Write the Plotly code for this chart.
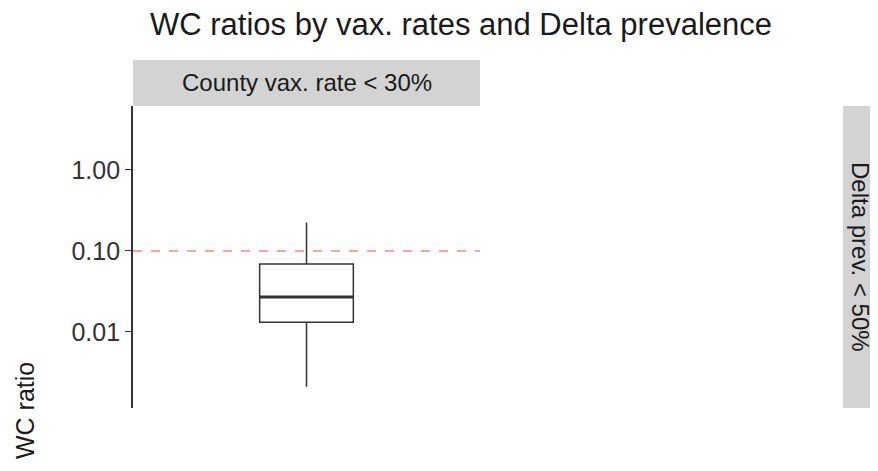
import plotly.graph_objects as go

# box summary (log scale)
group = ["County vax. rate < 30%"]
lower_whisker = [0.0021]
q1 = [0.0132]
median = [0.027]
q3 = [0.069]
upper_whisker = [0.224]
threshold = 0.10

tick_vals = [0.01, 0.1, 1.0]
tick_text = ["0.01", "0.10", "1.00"]

col_strip = "County vax. rate < 30%"
row_strip = "Delta prev. < 50%"

FONT = "Liberation Sans"
box_w = 0.27

# page has an 8px body margin, so the paper is shifted by 8px
L, T, B = 125, 98, 71
W = 878 - L
H = 471 - T - B
panel_end = 347 / W

fig = go.Figure()

fig.add_trace(go.Box(
    x=group,
    lowerfence=lower_whisker,
    q1=q1,
    median=median,
    q3=q3,
    upperfence=upper_whisker,
    width=box_w,
    whiskerwidth=0,
    fillcolor="white",
    line=dict(color="#333333", width=1.5),
    boxpoints=False,
    showlegend=False,
    hoverinfo="skip",
))

# ggplot draws the median thicker than the box edges
fig.add_shape(type="line", xref="x", yref="y",
              x0=-box_w / 2, x1=box_w / 2, y0=median[0], y1=median[0],
              line=dict(color="#333333", width=3))

# reference line
fig.add_shape(type="line", xref="paper", yref="y",
              x0=0, x1=panel_end, y0=threshold, y1=threshold,
              line=dict(color="#F28B82", width=1.4, dash="dash"))

# facet strips
fig.add_shape(type="rect", xref="paper", yref="paper",
              x0=0, x1=panel_end, y0=1, y1=1 + 46 / H,
              fillcolor="#D3D3D3", line=dict(width=0), layer="below")
fig.add_annotation(text=col_strip, xref="paper", yref="paper",
                   x=panel_end / 2, y=1 + 23 / H, showarrow=False,
                   xanchor="center", yanchor="middle",
                   font=dict(family=FONT, size=24, color="#1a1a1a"))
fig.add_shape(type="rect", xref="paper", yref="paper",
              x0=(835 - L) / W, x1=1.0, y0=0, y1=1,
              fillcolor="#D3D3D3", line=dict(width=0), layer="below")
fig.add_annotation(text=row_strip, xref="paper", yref="paper",
                   x=(853 - L) / W, y=0.5, showarrow=False, textangle=90,
                   xanchor="center", yanchor="middle",
                   font=dict(family=FONT, size=24, color="#1a1a1a"))

# y axis title, sits low as in the source
fig.add_annotation(text="WC ratio", xref="paper", yref="paper",
                   x=(17 - L) / W, y=(400 - 402) / H, showarrow=False, textangle=-90,
                   xanchor="center", yanchor="middle",
                   font=dict(family=FONT, size=25, color="#1a1a1a"))

fig.update_layout(
    width=878, height=471,
    margin=dict(l=L, r=0, t=T, b=B),
    paper_bgcolor="white", plot_bgcolor="white",
    font=dict(family=FONT, color="#1a1a1a"),
    title=dict(text="WC ratios by vax. rates and Delta prevalence",
               x=453 / 878, xanchor="center", y=1 - 16 / 471, yanchor="middle",
               font=dict(family=FONT, size=31, color="#1a1a1a")),
    xaxis=dict(domain=[0, panel_end], range=[-0.5, 0.5], visible=False,
               showgrid=False, zeroline=False),
    yaxis=dict(type="log", range=[-2.94, 0.79],
               tickvals=tick_vals, ticktext=tick_text,
               ticks="outside", ticklen=6, tickcolor="#333333", tickwidth=1.4,
               showline=True, linecolor="#333333", linewidth=1.8,
               showgrid=False, zeroline=False,
               tickfont=dict(family=FONT, size=25, color="#333333")),
)

fig.write_html("out.html")
